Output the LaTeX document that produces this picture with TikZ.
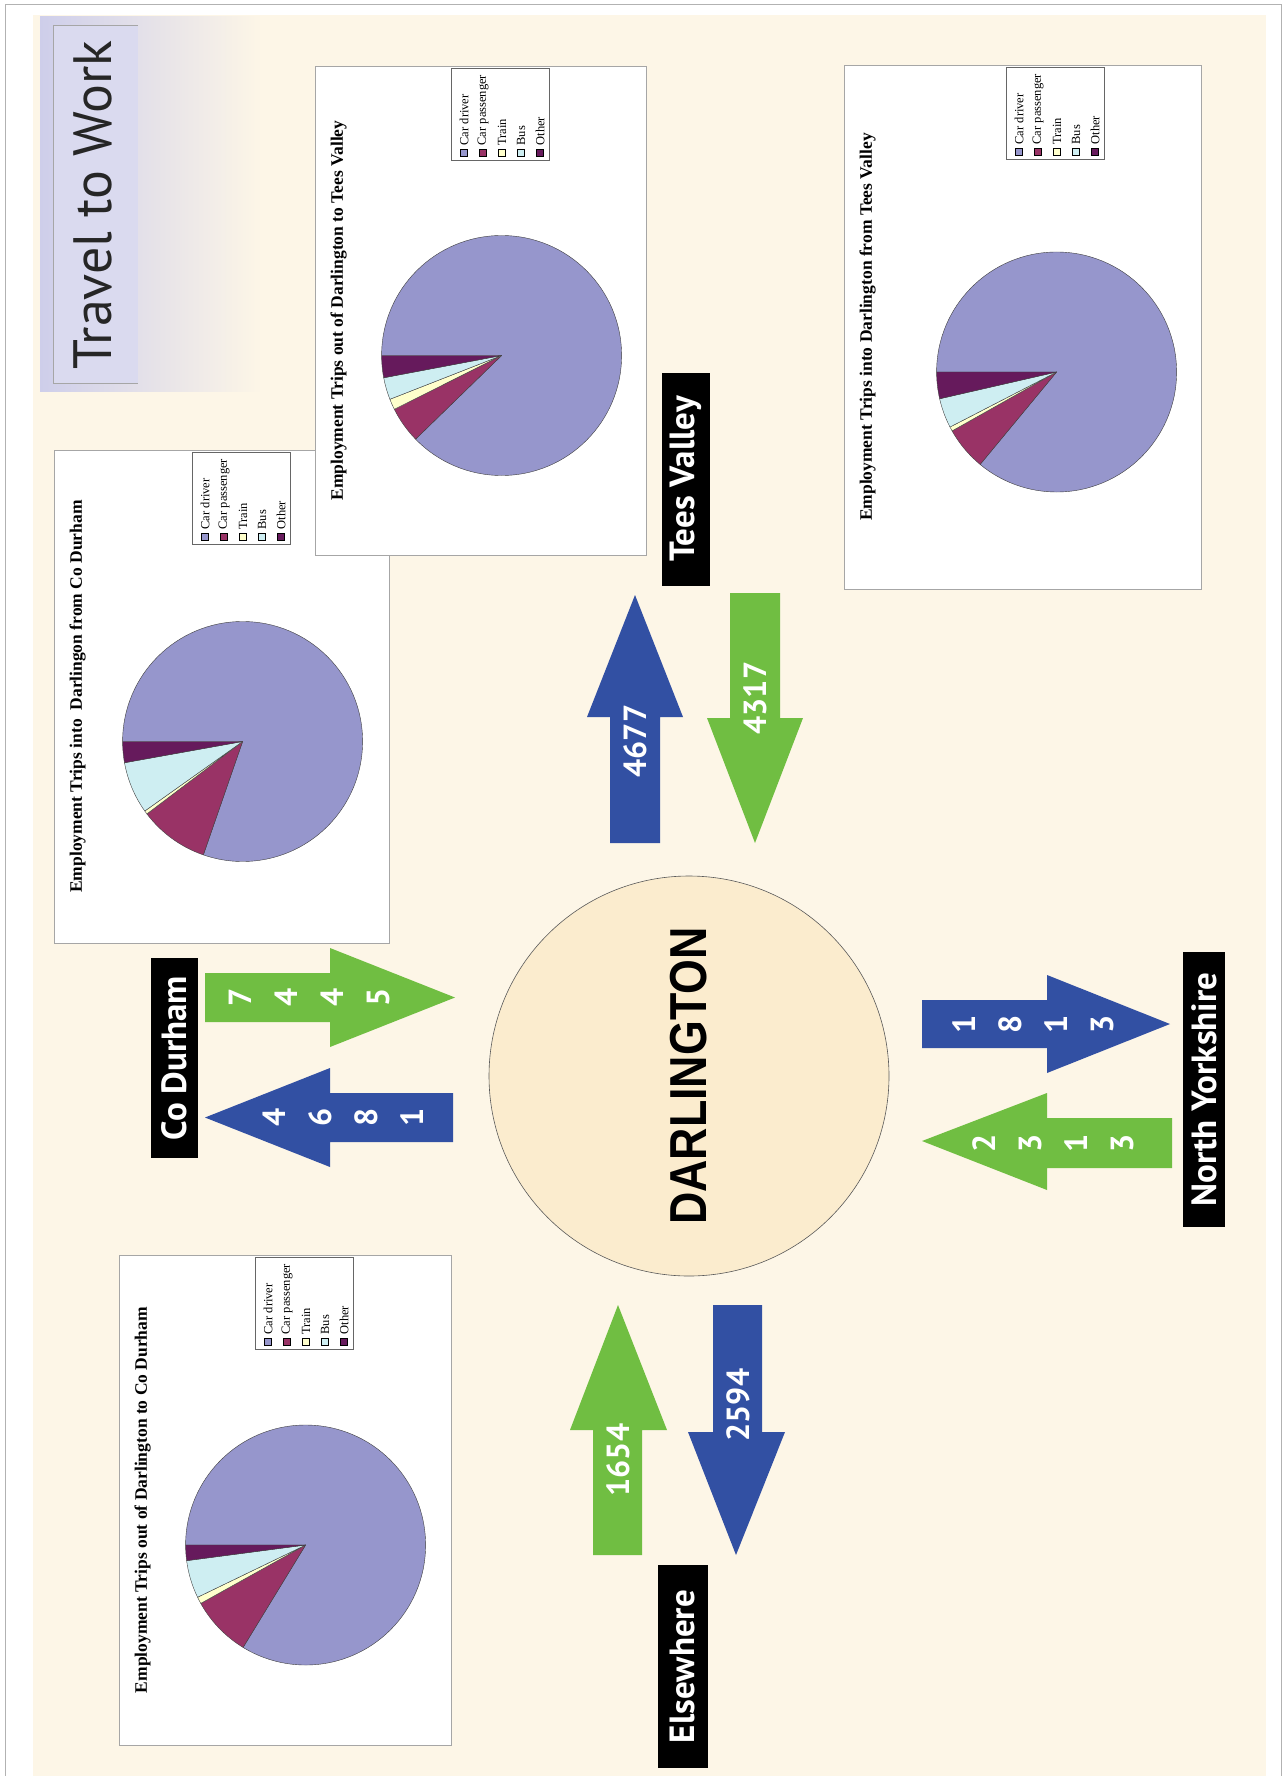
\documentclass[tikz,border=0pt]{standalone}
\usepackage{fontspec}
\usepackage{graphicx}
\setmainfont{Liberation Serif}
\newfontfamily\placefont{PT Sans}
\newfontfamily\hubfont{Liberation Sans}
\usetikzlibrary{calc}

\definecolor{paper}{RGB}{253,246,231}
\definecolor{hubfill}{RGB}{251,236,206}
\definecolor{lavender}{RGB}{206,206,234}
\definecolor{flowblue}{RGB}{50,80,163}
\definecolor{flowgreen}{RGB}{112,190,66}
\definecolor{cdriver}{RGB}{150,150,204}
\definecolor{cpass}{RGB}{153,51,102}
\definecolor{ctrain}{RGB}{255,255,204}
\definecolor{cbus}{RGB}{206,238,242}
\definecolor{cother}{RGB}{102,26,92}

\tikzset{
  chartbox/.style={draw=gray!70, fill=white, line width=0.8pt, inner sep=0pt},
  charttitle/.style={rotate=90, font=\bfseries\fontsize{17.5}{20}\selectfont},
  keybox/.style={draw=gray!80!black, fill=white, line width=0.5pt},
  keytext/.style={rotate=90, anchor=west, inner sep=0pt, font=\fontsize{12.5}{13}\selectfont},
  slice/.style={draw=black!75, line width=0.4pt, line join=round},
  place/.style={fill=black, text=white, rotate=90, inner sep=0pt, font=\placefont\bfseries\fontsize{35}{40}\selectfont},
  flowtext/.style={text=white, rotate=90, align=center, inner sep=0pt, font=\placefont\bfseries\fontsize{32}{46}\selectfont},
}

% one pie chart on its white card
% #1 name, #2 card centre, #3 width, #4 height, #5 pie offset from the left, #6 title, #7 slices
\newcommand{\tripchart}[7]{%
  \node[chartbox, minimum width=#3pt, minimum height=#4pt] (#1) at (#2) {};
  \node[charttitle] (#1-title) at ([xshift=24pt]#1.west) {#6};
  \coordinate (#1-pie) at ([xshift=#5pt, yshift=-45pt]#1.west);
  \foreach \col/\from/\to in {#7}
    \filldraw[slice, fill=\col] (#1-pie) -- ++({180-\from}:120pt)
      arc[start angle={180-\from}, end angle={180-\to}, radius=120pt] -- cycle;
  \coordinate (#1-key) at ($(#1-pie |- #1.north)+(-50,3)$);
  \draw[keybox] (#1-key) rectangle ++(98,92);
  \foreach \col/\txt [count=\i] in {cdriver/Car driver, cpass/Car passenger, ctrain/Train, cbus/Bus, cother/Other} {
    \draw[line width=0.4pt, fill=\col] ($(#1-key)+({-10.5+19*\i},80.5)$) rectangle ++(7,7);
    \node[keytext] (#1-key\i) at ($(#1-key)+({-6.5+19*\i},77)$) {\txt};
  }
}

\begin{document}
\begin{tikzpicture}[x=1pt, y=-1pt]
\useasboundingbox (0,0) rectangle (1286,1776);
\fill[white] (0,0) rectangle (1286,1776);
\draw[gray!60, line width=1pt] (5,1776) -- (5,5) -- (1281,5) -- (1281,1776);
\fill[paper] (33,15) rectangle (1266,1776);

% heading
\shade[left color=lavender, right color=paper] (40,17) rectangle (262,391);
\fill[lavender!75!white] (53,25) rectangle (138,383);
\draw[gray!70, line width=0.8pt] (138,25) -- (53,25) -- (53,383) -- (138,383);
\node[rotate=90, text=black!85, font=\placefont\fontsize{54}{56}\selectfont] (heading) at (93,205) {Travel to Work};

% the four charts
\tripchart{cdin}{221.5,696.5}{335}{493}{189}{Employment Trips into\ \ Darlingon from Co Durham}
  {cdriver/0/289.1, cpass/289.1/322.9, ctrain/322.9/324.6, cbus/324.6/349.8, cother/349.8/360}
\tripchart{tvout}{480.5,310.5}{331}{489}{187}{Employment Trips out of Darlington to Tees Valley}
  {cdriver/0/315.8, cpass/315.8/333.4, ctrain/333.4/338.6, cbus/338.6/349.3, cother/349.3/360}
\tripchart{tvin}{1022.5,327}{357}{524}{213}{Employment Trips into Darlington from Tees Valley}
  {cdriver/0/309.6, cpass/309.6/330.6, ctrain/330.6/332.7, cbus/332.7/347.1, cother/347.1/360}
\tripchart{cdout}{285,1500}{332}{490}{187}{Employment Trips out of Darlington to Co Durham}
  {cdriver/0/301.4, cpass/301.4/330.9, ctrain/330.9/334.2, cbus/334.2/352.5, cother/352.5/360}

% Darlington in the middle
\node[circle, draw=gray!70!black, fill=hubfill, line width=0.6pt, minimum size=400pt, inner sep=0pt,
  rotate=90, font=\hubfont\bfseries\fontsize{52}{54}\selectfont] (darlington) at (689,1076)
  {\scalebox{0.86}[1]{DARLINGTON}};

% places
\node[place, minimum width=200pt, minimum height=47pt] (codurham) at (174.5,1058) {Co Durham};
\node[place, minimum width=213pt, minimum height=48pt] (teesvalley) at (686,479) {Tees Valley};
\node[place, minimum width=275pt, minimum height=42pt] (northyorks) at (1204,1089.5) {North Yorkshire};
\node[place, minimum width=203pt, minimum height=50pt] (elsewhere) at (682.5,1666.5) {Elsewhere};

% Co Durham flows
\fill[flowgreen] (205,973) -- (330,973) -- (330,948) -- (455,997.5) -- (330,1047) -- (330,1022) -- (205,1022) -- cycle;
\fill[flowblue] (453,1093) -- (330,1093) -- (330,1068) -- (205,1117.5) -- (330,1167) -- (330,1142) -- (453,1142) -- cycle;
\node[flowtext] (cdinflow) at (310,997) {7\\4\\4\\5};
\node[flowtext] (cdoutflow) at (343,1117) {4\\6\\8\\1};

% Tees Valley flows
\fill[flowblue] (610,843) -- (610,717) -- (587,717) -- (635,595) -- (683,717) -- (660,717) -- (660,843) -- cycle;
\fill[flowgreen] (730,593) -- (780,593) -- (780,718) -- (803,718) -- (755,843) -- (707,718) -- (730,718) -- cycle;
\node[flowtext] (tvoutflow) at (635,741) {4677};
\node[flowtext] (tvinflow) at (755,698) {4317};

% North Yorkshire flows
\fill[flowblue] (922,1000) -- (1047,1000) -- (1047,975) -- (1170,1024) -- (1047,1073) -- (1047,1048) -- (922,1048) -- cycle;
\fill[flowgreen] (1172,1118) -- (1047,1118) -- (1047,1093) -- (922,1141) -- (1047,1190) -- (1047,1168) -- (1172,1168) -- cycle;
\node[flowtext] (nyoutflow) at (1033,1024) {1\\8\\1\\3};
\node[flowtext] (nyinflow) at (1053,1143) {2\\3\\1\\3};

% Elsewhere flows
\fill[flowgreen] (593,1555) -- (593,1430) -- (570,1430) -- (618,1305) -- (667,1430) -- (642,1430) -- (642,1555) -- cycle;
\fill[flowblue] (713,1305) -- (762,1305) -- (762,1432) -- (785,1432) -- (736,1555) -- (688,1432) -- (713,1432) -- cycle;
\node[flowtext] (elinflow) at (618,1460) {1654};
\node[flowtext] (eloutflow) at (738,1405) {2594};
\end{tikzpicture}
\end{document}
